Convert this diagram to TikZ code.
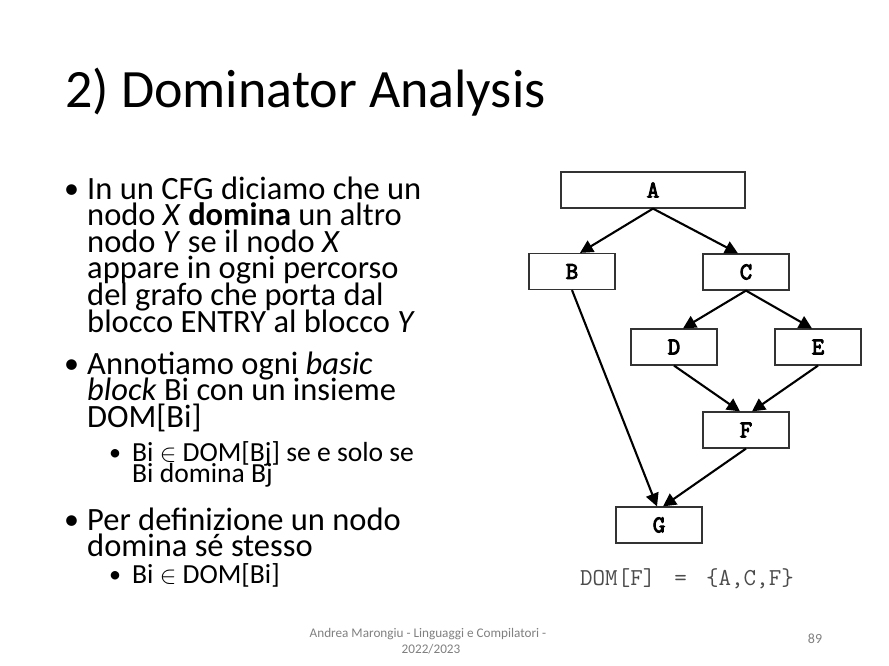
\documentclass[tikz,border=0pt]{standalone}
\usepackage{fontspec}
\setmainfont{Carlito}
\newfontfamily\boxfont{Latin Modern Mono}[AutoFakeBold=4]
\usetikzlibrary{arrows.meta}
\begin{document}
\begin{tikzpicture}[x=1pt,y=-1pt,
  line/.style={inner sep=0pt,anchor=base west,font=\fontsize{32.5}{32.5}\selectfont},
  subline/.style={inner sep=0pt,anchor=base west,font=\fontsize{27.6}{27.6}\selectfont},
  dot/.style={inner sep=0pt,anchor=base west,font=\fontsize{30}{30}\selectfont},
  subdot/.style={inner sep=0pt,anchor=base west,font=\fontsize{24}{24}\selectfont},
  blk/.style={draw=black!80,line width=1.2pt,minimum width=86pt,minimum height=36pt,
    inner sep=0pt,font=\boxfont\bfseries\fontsize{24}{24}\selectfont},
  arr/.style={line width=2.1pt,-{Triangle[length=13pt,width=13pt]}},
  foot/.style={inner sep=0pt,anchor=base,text=black!50,font=\fontsize{13.2}{13.2}\selectfont}]
\useasboundingbox[fill=white] (0,0) rectangle (889,666);

% title
\node[inner sep=0pt,anchor=base west,font=\fontsize{54}{54}\selectfont] (title) at (65,108) {2) Dominator Analysis};

% bullet list
\node[dot] (b1) at (64,198) {•};
\node[line] (t1a) at (87,199) {In un CFG diciamo che un};
\node[line] (t1b) at (87,225.6) {nodo \textit{X} \textbf{domina} un altro};
\node[line] (t1c) at (87,252.2) {nodo \textit{Y} se il nodo \textit{X}};
\node[line] (t1d) at (87,278.8) {appare in ogni percorso};
\node[line] (t1e) at (87,305.4) {del grafo che porta dal};
\node[line] (t1f) at (87,332) {blocco ENTRY al blocco \textit{Y}};

\node[dot] (b2) at (64,373.3) {•};
\node[line] (t2a) at (87,374.3) {Annotiamo ogni \textit{basic}};
\node[line] (t2b) at (87,400.9) {\textit{block} Bi con un insieme};
\node[line] (t2c) at (87,427.5) {DOM[Bi]};

\node[subdot] (b21) at (109,460.7) {•};
\node[subline] (t21a) at (132,461.7) {Bi $\in$ DOM[Bj] se e solo se};
\node[subline] (t21b) at (132,482) {Bi domina Bj};

\node[dot] (b3) at (64,529) {•};
\node[line] (t3a) at (87,530) {Per definizione un nodo};
\node[line] (t3b) at (87,556.6) {domina sé stesso};

\node[subdot] (b31) at (109,582) {•};
\node[subline] (t31a) at (132,583) {Bi $\in$ DOM[Bi]};

% control flow graph
\node[blk,minimum width=184pt] (A) at (653,190) {A};
\node[blk] (B) at (572,271.5) {B};
\node[blk] (C) at (746,272) {C};
\node[blk] (D) at (674,347) {D};
\node[blk] (E) at (818,347) {E};
\node[blk] (F) at (746,430) {F};
\node[blk] (G) at (659,525) {G};

\draw[arr] (A.south) -- ([xshift=8pt]B.north);
\draw[arr] (A.south) -- ([xshift=-8pt]C.north);
\draw[arr] (C.south) -- ([xshift=9pt]D.north);
\draw[arr] (C.south) -- ([xshift=-6pt]E.north);
\draw[arr] (D.south) -- ([xshift=-6pt]F.north);
\draw[arr] (E.south) -- ([xshift=6pt]F.north);
\draw[arr] (B.south) -- ([xshift=-2pt]G.north);
\draw[arr] (F.south) -- ([xshift=4pt]G.north);

\node[inner sep=0pt,anchor=base west,text=black!70,font=\ttfamily\fontsize{24.3}{24.3}\selectfont] (dom) at (580,585)
  {DOM[F]\hspace{0.79em}=\hspace{0.79em}\{A,C,F\}};

% footer
\node[foot] (f1) at (428,637) {Andrea Marongiu - Linguaggi e Compilatori -};
\node[foot] (f2) at (431,653) {2022/2023};
\node[foot,font=\fontsize{14}{14}\selectfont] (pg) at (815,643) {89};
\end{tikzpicture}
\end{document}
